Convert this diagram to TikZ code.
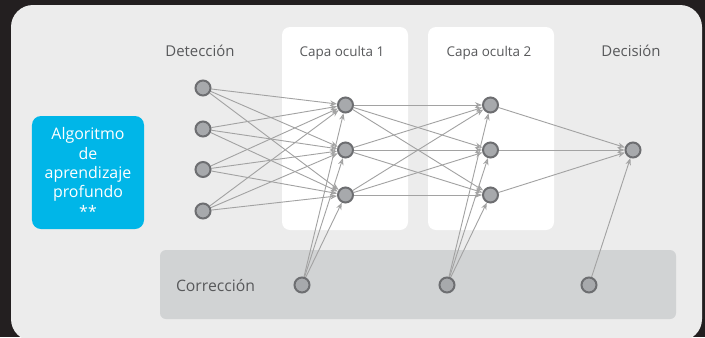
\documentclass[tikz,border=0pt]{standalone}
\usepackage{fontspec}
\setmainfont{Open Sans}
\usetikzlibrary{arrows.meta}
\definecolor{bgdark}{HTML}{231F20}
\definecolor{panel}{HTML}{ECECEC}
\definecolor{corr}{HTML}{D1D3D4}
\definecolor{cyanbox}{HTML}{00B6E8}
\definecolor{nodefill}{HTML}{A7A9AC}
\definecolor{nodeline}{HTML}{6D6E71}
\definecolor{edgegray}{HTML}{A2A2A2}
\definecolor{labeltext}{HTML}{58595B}
\pgfdeclarelayer{bglayer}
\pgfdeclarelayer{edgelayer}
\pgfsetlayers{bglayer,edgelayer,main}
\tikzset{
  neuron/.style={circle, fill=nodefill, draw=nodeline, line width=2bp, minimum size=15bp, inner sep=0pt},
  conn/.style={draw=edgegray, line width=0.9bp, -{Stealth[open, length=7bp, width=5.5bp]}},
  biglabel/.style={text=labeltext, font=\fontsize{15}{18}\selectfont, anchor=base, inner sep=0pt},
  smalllabel/.style={text=labeltext, font=\fontsize{13.5}{16}\selectfont, anchor=base, inner sep=0pt},
  algobox/.style={fill=cyanbox, rounded corners=9bp, minimum width=112bp, minimum height=113bp, text=white, align=center, font=\fontsize{16}{19.5}\selectfont, inner sep=0pt},
}
\begin{document}
\begin{tikzpicture}[x=1bp,y=-1bp]
\useasboundingbox (0,0) rectangle (705,337);
\begin{pgfonlayer}{bglayer}
\fill[bgdark] (0,0) rectangle (705,337);
\fill[panel, rounded corners=22bp] (11,5) rectangle (702,341);
\fill[white, rounded corners=8bp] (282,27) rectangle (408,230);
\fill[white, rounded corners=8bp] (428,27) rectangle (554,230);
\fill[corr, rounded corners=6bp] (160,250) rectangle (676,319);
\end{pgfonlayer}

\node[algobox] (algo) at (88,172.5) {Algoritmo\\de\\aprendizaje\\profundo\\**};

\node[biglabel] (ldet) at (200,56) {Detección};
\node[smalllabel] (lc1) at (342,56) {Capa oculta 1};
\node[smalllabel] (lc2) at (489,56) {Capa oculta 2};
\node[biglabel] (ldec) at (631,56) {Decisión};
\node[biglabel, font=\fontsize{15.8}{18}\selectfont] (lcor) at (215.5,291) {Corrección};

\node[neuron] (i1) at (203,88) {};
\node[neuron] (i2) at (203,129) {};
\node[neuron] (i3) at (203,169.5) {};
\node[neuron] (i4) at (203,211) {};
\node[neuron] (h1) at (345.5,105) {};
\node[neuron] (h2) at (345.5,150) {};
\node[neuron] (h3) at (345.5,195) {};
\node[neuron] (g1) at (490.5,105) {};
\node[neuron] (g2) at (490.5,150) {};
\node[neuron] (g3) at (490.5,195) {};
\node[neuron] (o) at (633,150) {};
\node[neuron] (b1) at (302,285) {};
\node[neuron] (b2) at (447,285) {};
\node[neuron] (b3) at (589,285) {};

\begin{pgfonlayer}{edgelayer}
\foreach \a in {i1,i2,i3,i4}{\foreach \b in {h1,h2,h3}{\draw[conn] (\a) -- (\b);}}
\foreach \a in {h1,h2,h3}{\foreach \b in {g1,g2,g3}{\draw[conn] (\a) -- (\b);}}
\foreach \a in {g1,g2,g3}{\draw[conn] (\a) -- (o);}
\foreach \b in {h1,h2,h3}{\draw[conn] (b1) -- (\b);}
\foreach \b in {g1,g2,g3}{\draw[conn] (b2) -- (\b);}
\draw[conn] (b3) -- (o);
\end{pgfonlayer}
\end{tikzpicture}
\end{document}
